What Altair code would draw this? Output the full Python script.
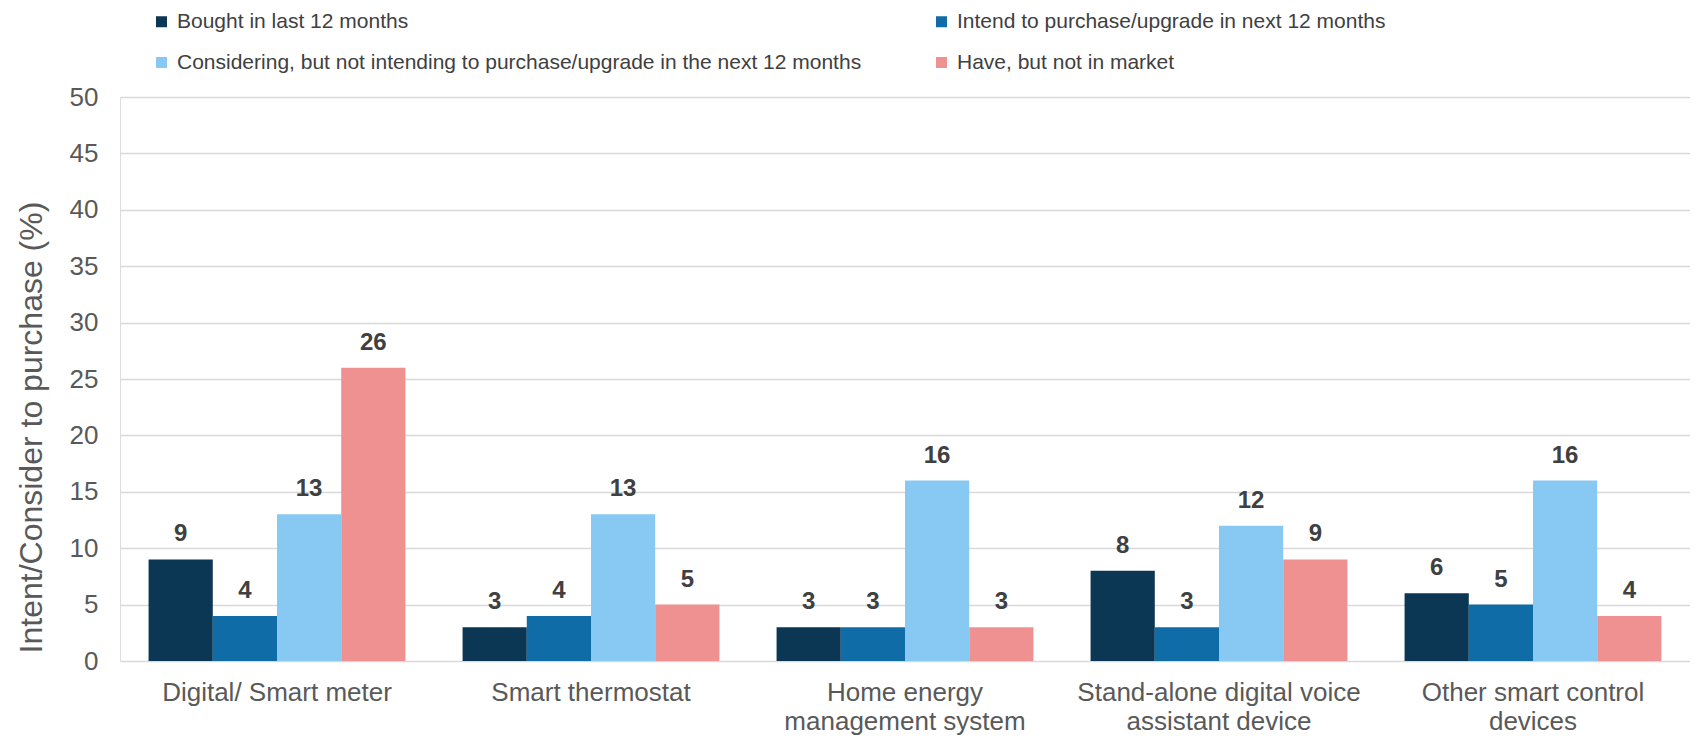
import altair as alt
import pandas as pd

CATEGORIES = [
    "Digital/ Smart meter",
    "Smart thermostat",
    "Home energy\nmanagement system",
    "Stand-alone digital voice\nassistant device",
    "Other smart control\ndevices",
]
SERIES = [
    "Bought in last 12 months",
    "Intend to purchase/upgrade in next 12 months",
    "Considering, but not intending to purchase/upgrade in the next 12 months",
    "Have, but not in market",
]
BOUGHT = [9, 3, 3, 8, 6]
INTEND = [4, 4, 3, 3, 5]
CONSIDERING = [13, 13, 16, 12, 16]
HAVE = [26, 5, 3, 9, 4]
COLORS = ["#0B3654", "#0F6CA6", "#87C9F3", "#F09191"]
Y_TICKS = [0, 5, 10, 15, 20, 25, 30, 35, 40, 45, 50]

# legend fills column by column: reorder so rows read Bought/Intend, Considering/Have
LEGEND_ORDER = [0, 2, 1, 3]
LEGEND_DOMAIN = [SERIES[i] for i in LEGEND_ORDER]
LEGEND_RANGE = [COLORS[i] for i in LEGEND_ORDER]

rows = []
for s, vals in zip(SERIES, [BOUGHT, INTEND, CONSIDERING, HAVE]):
    for c, v in zip(CATEGORIES, vals):
        rows.append({"category": c, "series": s, "value": v})
df = pd.DataFrame(rows)

FONT = "Liberation Sans"

x_enc = alt.X(
    "category:N",
    sort=CATEGORIES,
    scale=alt.Scale(paddingInner=0.182, paddingOuter=0.091),
    axis=alt.Axis(
        title=None,
        labelAngle=0,
        labelFontSize=26,
        labelColor="#595959",
        labelPadding=18,
        labelLineHeight=29,
        labelLimit=600,
        labelExpr="split(datum.label, '\\n')",
        ticks=False,
        grid=False,
        domain=False,
        labelFont=FONT,
    ),
)
xoff = alt.XOffset("series:N", sort=SERIES, scale=alt.Scale(paddingInner=0, paddingOuter=0))
y_enc = alt.Y(
    "value:Q",
    scale=alt.Scale(domain=[0, 50], nice=False),
    axis=alt.Axis(
        values=Y_TICKS,
        title="Intent/Consider to purchase (%)",
        titleFontSize=32,
        titleFontWeight="normal",
        titleColor="#595959",
        titleFont=FONT,
        titleX=-89,
        titleY=330,
        titleAngle=-90,
        titleAlign="center",
        titleBaseline="middle",
        labelFontSize=26,
        labelColor="#595959",
        labelFont=FONT,
        labelPadding=22,
        ticks=False,
        domain=False,
        grid=True,
        gridColor="#d9d9d9",
        gridWidth=1.3,
    ),
)

bars = alt.Chart(df).mark_bar().encode(
    x=x_enc,
    xOffset=xoff,
    y=y_enc,
    color=alt.Color(
        "series:N",
        scale=alt.Scale(domain=LEGEND_DOMAIN, range=LEGEND_RANGE),
        legend=alt.Legend(
            title=None,
            orient="none",
            legendX=31,
            legendY=-86,
            columns=2,
            columnPadding=69,
            rowPadding=19,
            symbolType="square",
            symbolSize=121,
            symbolStrokeWidth=0,
            symbolOpacity=1,
            labelFontSize=21,
            labelColor="#404040",
            labelFont=FONT,
            labelOffset=5,
            labelLimit=900,
        ),
    ),
)

labels = alt.Chart(df).mark_text(
    font=FONT, fontSize=24, fontWeight="bold", color="#404040",
    baseline="alphabetic", dy=-18,
).encode(
    x=x_enc,
    xOffset=xoff,
    y=y_enc,
    text="value:Q",
)

chart = (
    alt.layer(bars, labels)
    .properties(
        width=1570,
        height=564,
        padding={"left": 112, "top": 89, "right": 0, "bottom": 78},
        autosize=alt.AutoSizeParams(type="none"),
    )
    .configure_view(stroke="transparent", strokeWidth=0)
    .configure_axis(domain=False)
    .configure(font=FONT)
)

chart.save("out.html", embed_options={"renderer": "svg", "actions": False})
